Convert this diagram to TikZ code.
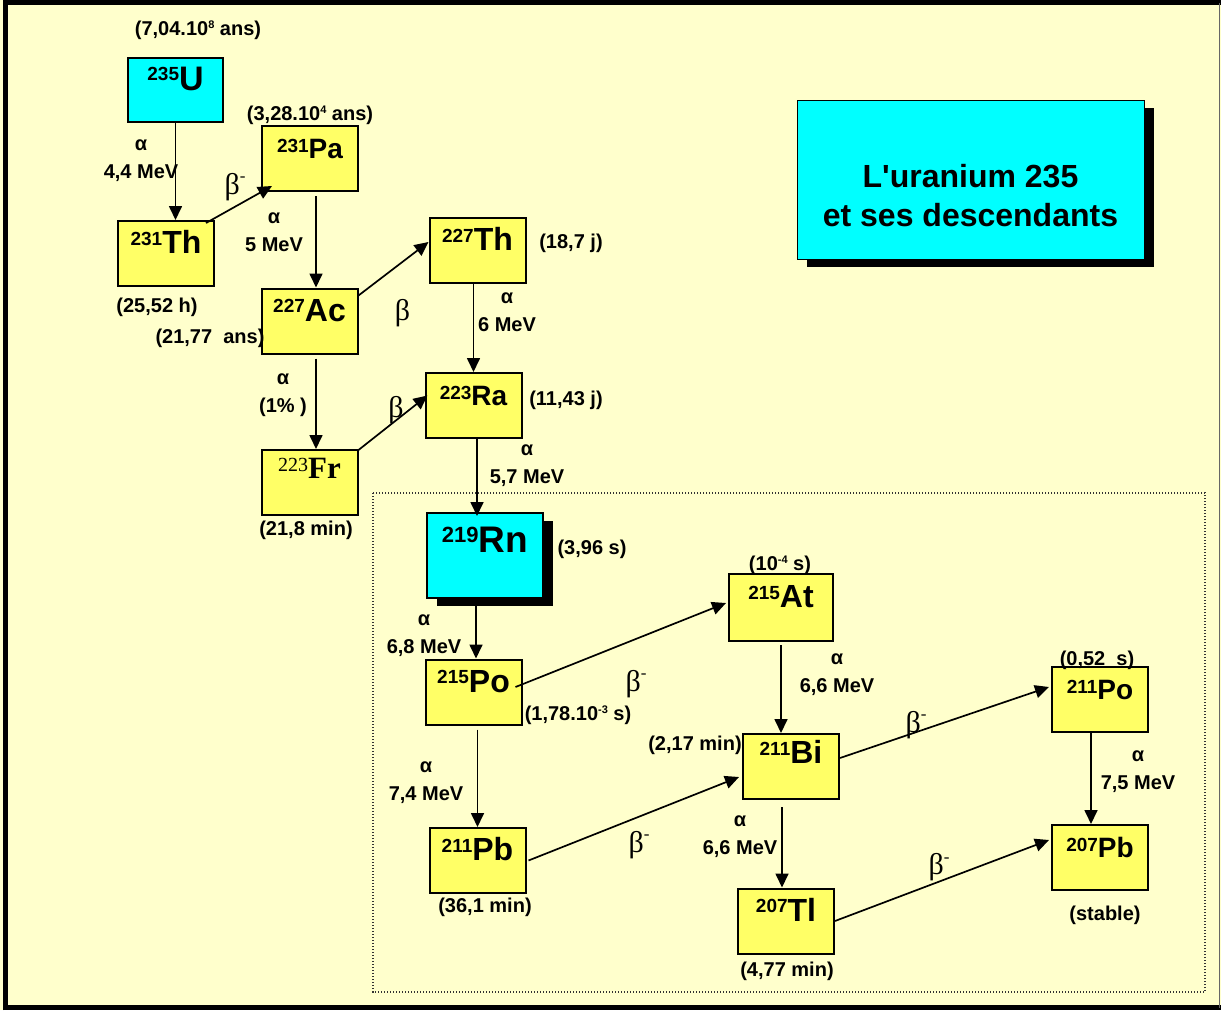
\documentclass[tikz,border=0pt]{standalone}
\usepackage{fontspec}
\setmainfont{Liberation Sans}
\newfontfamily\serifb{Liberation Serif}
\usepackage{tikz}
\usetikzlibrary{calc, arrows.meta, shadows}
\definecolor{fond}{HTML}{FFFFCC}
\definecolor{jaune}{HTML}{FFFF66}
\definecolor{turq}{HTML}{00FFFF}
\newcommand{\iso}[3][19]{\raisebox{\dimexpr\fontcharht\font`H-#1pt*72/100\relax}{\fontsize{#1}{#1}\selectfont #2}#3}
\newcommand{\expo}[1]{\raisebox{0.32em}{\fontsize{11}{11}\selectfont #1}}
\newcommand{\betam}{β\raisebox{0.42em}{\fontsize{17}{17}\selectfont -}}
\tikzset{
    noyau/.style={draw=black, line width=2pt, fill=jaune, minimum width=96pt, minimum height=65pt,
        inner sep=0pt, text height=0pt, text depth=0pt, font=\bfseries\fontsize{32}{32}\selectfont},
    petit/.style={font=\bfseries\fontsize{28}{28}\selectfont},
    periode/.style={font=\bfseries\fontsize{20}{20}\selectfont, inner sep=0pt},
    desint/.style={font=\bfseries\fontsize{20}{28}\selectfont, inner sep=0pt, align=center},
    betalab/.style={font=\serifb\fontsize{30}{30}\selectfont, inner sep=0pt},
    fleche/.style={-{Triangle[length=14pt,width=13pt]}, line width=1.7pt},
    ombre/.style={drop shadow={shadow xshift=10pt, shadow yshift=-8pt, fill=black, opacity=1}}
}
\begin{document}
\begin{tikzpicture}[x=1pt, y=-1pt]
                \useasboundingbox (0,0) rectangle (1221,1010);
                \fill[fond] (0,0) rectangle (1221,1010);
                \draw[line width=5pt] (5.5,1010) -- (5.5,2.5) -- (1221,2.5);
                \draw[line width=5pt] (3,1007.5) -- (1221,1007.5);
                \draw[line width=1.2pt, black!60] (1219.5,2.5) -- (1219.5,1007.5);
                \draw[dash pattern=on 1.2pt off 1.8pt, line width=1.2pt, black!80] (373,493) rectangle (1205,992);

                \node[noyau, fill=turq, minimum width=95pt, minimum height=64pt, font=\bfseries\fontsize{34}{34}\selectfont] (U) at (175.5,90) {\iso{235}{U}};
                \node[noyau, petit] (Pa) at (310,158.5) {\iso{231}{Pa}};
                \node[noyau] (Th1) at (166,253.5) {\iso{231}{Th}};
                \node[noyau] (Ac) at (309.5,321) {\iso{227}{Ac}};
                \node[noyau, text depth=8pt, font=\serifb\bfseries\fontsize{31}{31}\selectfont] (Fr) at (309.5,482.5) {\raisebox{7pt}{\mdseries\fontsize{20}{20}\selectfont 223}Fr};
                \node[noyau] (Th2) at (477.5,250.5) {\iso{227}{Th}};
                \node[noyau, petit] (Ra) at (473.5,405.5) {\iso{223}{Ra}};
                \node[noyau, fill=turq, ombre, minimum width=116pt, minimum height=85pt, text depth=7pt, font=\bfseries\fontsize{37}{37}\selectfont] (Rn) at (485,555.5) {\iso[22]{219}{Rn}};
                \node[noyau] (Po1) at (473.5,692) {\iso{215}{Po}};
                \node[noyau, minimum width=104pt, minimum height=67pt] (At) at (781,607.5) {\iso{215}{At}};
                \node[noyau, text depth=6pt] (Bi) at (791,766.5) {\iso{211}{Bi}};
                \node[noyau, petit] (Po2) at (1100,699) {\iso{211}{Po}};
                \node[noyau, petit] (Pb3) at (1100,857.5) {\iso{207}{Pb}};
                \node[noyau] (Pb1) at (477.5,860.5) {\iso{211}{Pb}};
                \node[noyau] (Tl) at (786,921) {\iso{207}{Tl}};
                \node[draw=black, line width=1pt, fill=turq, ombre, minimum width=347pt, minimum height=159pt] (titre) at (970.5,179.5) {};
                \node[align=center, inner sep=0pt, font=\bfseries\fontsize{32}{39}\selectfont] (titret) at ([yshift=-16pt]titre.center) {L\textquotesingle uranium 235\\et ses descendants};

                \node[periode] (pU) at (198,30) {(7,04.10\expo{8} ans)};
                \node[periode] (pPa) at (310,115) {(3,28.10\expo{4} ans)};
                \node[periode] (pTh1) at (157,307) {(25,52 h)};
                \node[periode] (pAc) at (210,338) {(21,77\ \ ans)};
                \node[periode] (pFr) at (306,530) {(21,8 min)};
                \node[periode] (pTh2) at (571,243) {(18,7 j)};
                \node[periode] (pRa) at (566,400) {(11,43 j)};
                \node[periode] (pRn) at (592,549) {(3,96 s)};
                \node[periode] (pPo1) at (578,715) {(1,78.10\expo{-3} s)};
                \node[periode] (pAt) at (780,565) {(10\expo{-4} s)};
                \node[periode] (pBi) at (695,745) {(2,17 min)};
                \node[periode] (pPo2) at (1097,660) {(0,52\ \ s)};
                \node[periode] (pPb3) at (1105,915) {(stable)};
                \node[periode] (pPb1) at (485,907) {(36,1 min)};
                \node[periode] (pTl) at (787,971) {(4,77 min)};

                \node[desint] (dU) at (141,161) {α\\4,4 MeV};
                \node[desint] (dPa) at (274,232) {α\\5 MeV};
                \node[desint] (dAc) at (283,395) {α\\(1\% )};
                \node[desint] (dTh2) at (507,312) {α\\6 MeV};
                \node[desint] (dRa) at (527,466) {α\\5,7 MeV};
                \node[desint] (dRn) at (424,636) {α\\6,8 MeV};
                \node[desint] (dAt) at (837,675) {α\\6,6 MeV};
                \node[desint] (dPo2) at (1138,772) {α\\7,5 MeV};
                \node[desint] (dPo1) at (426,783) {α\\7,4 MeV};
                \node[desint] (dBi) at (740,837) {α\\6,6 MeV};

                \node[betalab] (b1) at (235,187) {\betam};
                \node[betalab] (b2) at (402.5,313.5) {β};
                \node[betalab] (b3) at (396,410) {β};
                \node[betalab] (b4) at (636,684) {\betam};
                \node[betalab] (b5) at (916,725) {\betam};
                \node[betalab] (b6) at (639,845) {\betam};
                \node[betalab] (b7) at (939,867.5) {\betam};

                \draw[fleche] (U.south) -- (U.south |- Th1.north);
                \draw[fleche] ([xshift=-9pt, yshift=-3pt]Th1.north east) -- ([xshift=11pt, yshift=6pt]Pa.south west);
                \draw[fleche] ([xshift=6pt, yshift=-4pt]Pa.south) -- ([xshift=6pt]Pa.south |- Ac.north);
                \draw[fleche] ([yshift=-8pt]Ac.north east) -- ([yshift=8.5pt]Th2.west);
                \draw[fleche] ([xshift=6.5pt, yshift=-4pt]Ac.south) -- ([xshift=6.5pt]Ac.south |- Fr.north);
                \draw[fleche] ([yshift=-1pt]Fr.north east) -- ([xshift=3pt, yshift=10pt]Ra.west);
                \draw[fleche] (Ra.north |- Th2.south) -- (Ra.north);
                \draw[fleche] ([xshift=3.5pt]Ra.south) -- ([xshift=3.5pt, yshift=-4pt]Ra.south |- Rn.north);
                \draw[fleche] ([xshift=2.5pt]Po1.north |- Rn.south) -- ([xshift=2.5pt]Po1.north);
                \draw[fleche] ([xshift=-7pt, yshift=5pt]Po1.east) -- ([xshift=-2pt, yshift=4.5pt]At.west);
                \draw[fleche] ([yshift=-4pt]Pb1.north |- Po1.south) -- (Pb1.north);
                \draw[fleche] ([yshift=-3pt]At.south) -- (At.south |- Bi.north);
                \draw[fleche] ([xshift=2pt]Pb1.east) -- ([xshift=-3pt, yshift=-10.5pt]Bi.west);
                \draw[fleche] ([xshift=-4pt, yshift=-7pt]Tl.north |- Bi.south) -- ([xshift=-4pt]Tl.north);
                \draw[fleche] ([yshift=8.5pt]Bi.east) -- ([xshift=-2pt, yshift=12pt]Po2.west);
                \draw[fleche] ([xshift=-9pt]Po2.south) -- ([xshift=-9pt]Pb3.north);
                \draw[fleche] (Tl.east) -- ([xshift=-2pt, yshift=17.5pt]Pb3.west);
            \end{tikzpicture}
\end{document}
